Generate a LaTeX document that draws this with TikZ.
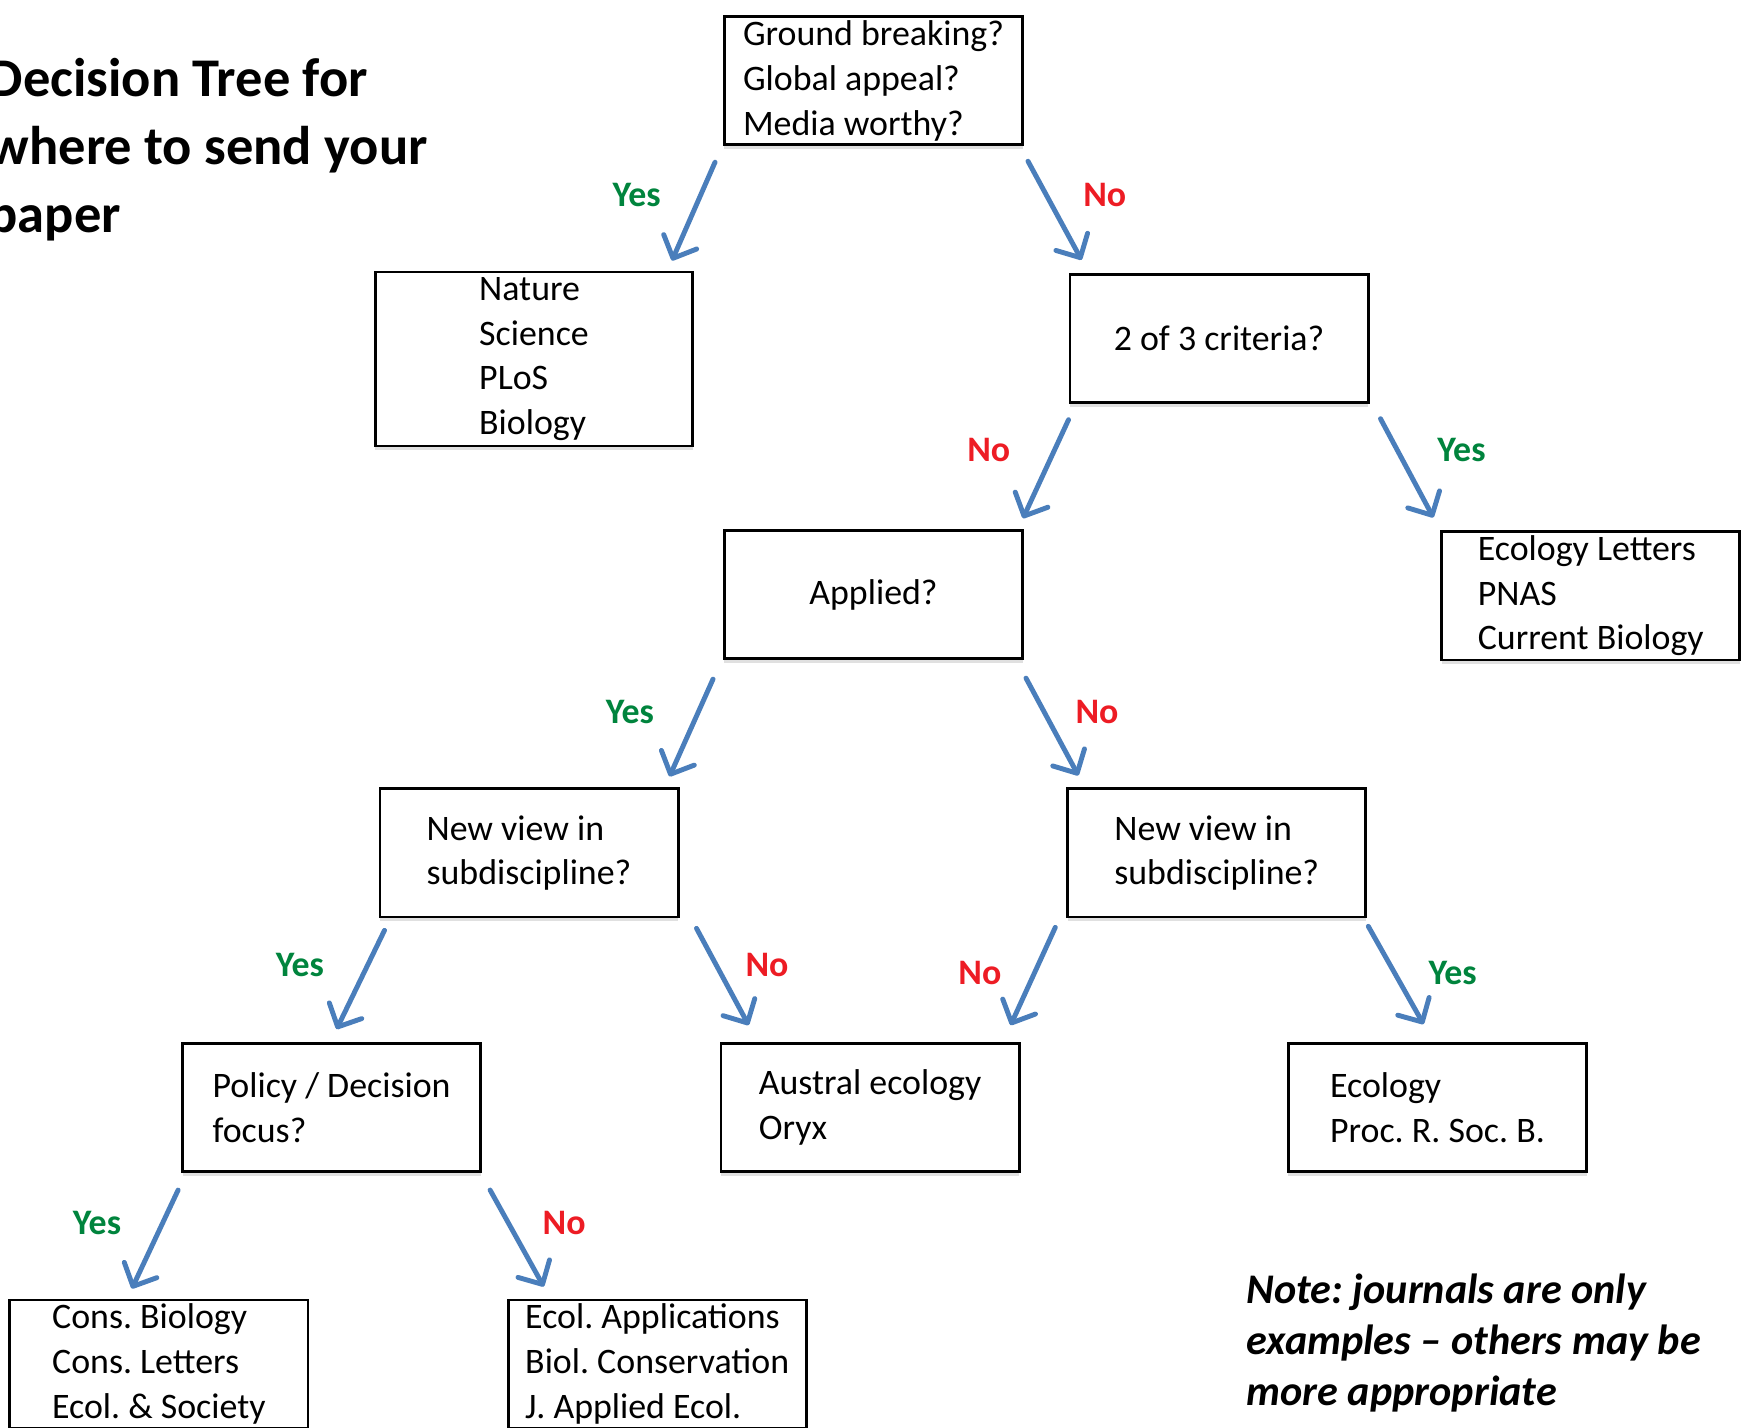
\documentclass[tikz,border=0pt]{standalone}
\usepackage{fontspec}
\setmainfont{Carlito}
\usepackage{tikz}
\usetikzlibrary{positioning}
\usetikzlibrary{calc,arrows.meta,shadows}

\definecolor{arrowblue}{RGB}{74,126,187}
\definecolor{yesgreen}{RGB}{0,132,61}
\definecolor{nored}{RGB}{237,28,36}
\frenchspacing

\begin{document}
\begin{tikzpicture}[x=0.01cm, y=-0.01cm,
    box/.style={draw, rectangle, fill=white, line width=0.8pt, minimum width=2.98cm, minimum height=1.28cm,
      align=left, inner sep=0pt, font=\fontsize{10.2}{12.7}\selectfont,
      drop shadow={shadow xshift=0pt, shadow yshift=-1.2pt, opacity=0.12, fill=black}},
    arr/.style={arrowblue, line width=1.4pt, line cap=round, -{Straight Barb[length=1.8mm,width=3.6mm,round]}},
    yeslbl/.style={yesgreen, font=\bfseries\fontsize{10.2}{12}\selectfont},
    nolbl/.style={nored, font=\bfseries\fontsize{10.2}{12}\selectfont}]
    \useasboundingbox (0,0) rectangle (1748,1428);
    \clip (0,0) rectangle (1748,1428);

    % Title and note
    \node [anchor=west, align=left, inner sep=0pt, font=\bfseries\fontsize{15.5}{19.3}\selectfont] (title) at (-12,149.5)
      {Decision Tree for\\where to send your\\paper};
    \node [anchor=west, align=left, inner sep=0pt, font=\bfseries\itshape\fontsize{12}{14.5}\selectfont] (note) at (1246,1343)
      {Note: journals are only\\examples – others may be\\more appropriate};

    % Nodes
    \node [box] (ground) at (873.5,80.8) {Ground breaking?\\Global appeal?\\Media worthy?};
    \node [box, minimum width=3.17cm, minimum height=1.74cm] (nature) at (534,359) {Nature\\Science\\PLoS\\Biology};
    \node [box] (crit) at (1219,338.3) {2 of 3 criteria?};
    \node [box] (toptier) at (1590.8,595.9) {Ecology Letters\\PNAS\\Current Biology};
    \node [box] (applied) at (873.5,594.7) {Applied?};
    \node [box] (newL) at (529,852.9) {New view in\\subdiscipline?};
    \node [box] (newR) at (1216.8,852.9) {New view in\\subdiscipline?};
    \node [box] (policy) at (331.6,1107.6) {Policy / Decision\\focus?};
    \node [box] (austral) at (870.1,1107.6) {Austral ecology\\Oryx};
    \node [box] (ecology) at (1437.5,1107.6) {Ecology\\Proc. R. Soc. B.};
    \node [box] (cons) at (158.9,1364) {Cons. Biology\\Cons. Letters\\Ecol. \& Society};
    \node [box] (ecolapp) at (657.2,1364) {Ecol. Applications\\Biol. Conservation\\J. Applied Ecol.};

    % Labels
    \node [yeslbl] (yes1) at (636.6,195.1) {Yes};
    \node [nolbl] (no1) at (1104.8,195.1) {No};
    \node [nolbl] (no2) at (988.8,450.4) {No};
    \node [yeslbl] (yes2) at (1461.5,450.4) {Yes};
    \node [yeslbl] (yes3) at (629.9,712.4) {Yes};
    \node [nolbl] (no3) at (1097,712.4) {No};
    \node [yeslbl] (yes4) at (299.9,965.4) {Yes};
    \node [nolbl] (no4) at (767,965.4) {No};
    \node [nolbl] (no5) at (979.9,973.2) {No};
    \node [yeslbl] (yes5) at (1452.6,973.2) {Yes};
    \node [yeslbl] (yes6) at (97,1223) {Yes};
    \node [nolbl] (no6) at (564.1,1223) {No};

    % Arrows
    \draw [arr] ($(ground.south west)+(-8,16)$) -- ($(nature.north east)+(-22,-10)$);
    \draw [arr] ($(ground.south east)+(4,15)$) -- ($(crit.north west)+(13,-13)$);
    \draw [arr] ($(crit.south west)+(0,16)$) -- ($(applied.north east)+(-1,-11)$);
    \draw [arr] ($(crit.south east)+(11,15)$) -- ($(toptier.north west)+(-7,-13)$);
    \draw [arr] ($(applied.south west)+(-10,19)$) -- ($(newL.north east)+(-10,-11)$);
    \draw [arr] ($(applied.south east)+(2,18)$) -- ($(newR.north west)+(12,-12)$);
    \draw [arr] ($(newL.south west)+(6,12)$) -- ($(policy.north)+(5,-13)$);
    \draw [arr] ($(newL.south east)+(17,10)$) -- ($(austral.north west)+(29,-17)$);
    \draw [arr] ($(newR.south west)+(-11,9)$) -- ($(austral.north east)+(-10,-17)$);
    \draw [arr] ($(newR.south east)+(1,8)$) -- ($(ecology.north)+(-14,-18)$);
    \draw [arr] ($(policy.south west)+(-3,17)$) -- ($(cons.north)+(-27,-10)$);
    \draw [arr] ($(policy.south east)+(8,17)$) -- ($(ecolapp.north west)+(37,-12)$);
\end{tikzpicture}
\end{document}
